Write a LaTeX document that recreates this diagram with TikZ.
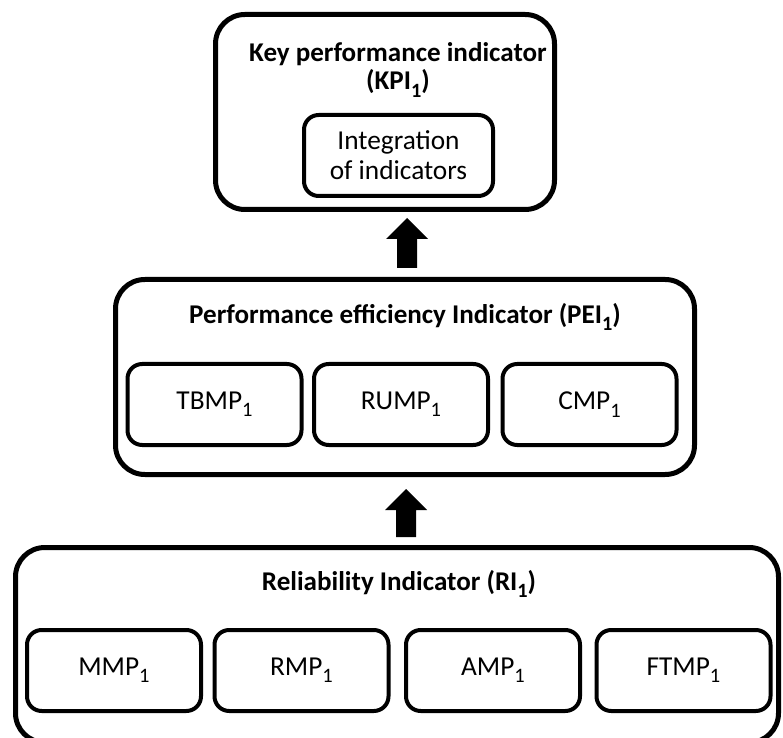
\documentclass[tikz,border=0pt]{standalone}
\usepackage{fontspec}
\usepackage{graphicx}
\setmainfont{Carlito}
\usetikzlibrary{calc}
\newcommand\sbone{\raisebox{-0.27em}{\scalebox{0.75}{1}}}
\tikzset{
  outerbox/.style={draw, line width=3.75pt, rounded corners=22pt, inner sep=0pt,
    minimum width={#1}},
  innerbox/.style={draw, line width=3pt, rounded corners=11pt, inner sep=0pt,
    minimum width={174*0.75pt}, minimum height={81*0.75pt}, font=\fontsize{20.5}{22.5}\selectfont, align=center},
  titletext/.style={font=\fontsize{20.3}{21}\selectfont\bfseries, align=center, inner sep=0pt},
  arrowfill/.style={fill=black}
}
\newcommand\blockarrow[2]{%
  \fill[arrowfill] ($(#1)+(-10,0)$) -- ($(#2)+(-10,21)$) -- ($(#2)+(-21,21)$) -- (#2)
    -- ($(#2)+(21,21)$) -- ($(#2)+(10,21)$) -- ($(#1)+(10,0)$) -- cycle;}
\begin{document}
\begin{tikzpicture}[x=0.75pt, y=-0.75pt]
\useasboundingbox (0,0) rectangle (783,738);
% KPI
\node[outerbox={339*0.75pt}, minimum height={195*0.75pt}] (kpi) at (385,112) {};
\node[titletext] (kpititle) at (398,70) {Key performance indicator\\(KPI\sbone)};
\node[innerbox, minimum width={189*0.75pt}] (integ) at (398.5,155.5) {Integration\\of indicators};
% PEI
\node[outerbox={579*0.75pt}, minimum height={195*0.75pt}] (pei) at (405,377) {};
\node[titletext] (peititle) at (405,317) {Performance efficiency Indicator (PEI\sbone)};
\node[innerbox] (tbmp) at (214.5,404.5) {TBMP\sbone};
\node[innerbox] (rump) at (401,404.5) {RUMP\sbone};
\node[innerbox] (cmp) at (589.5,404.5) {CMP\sbone};
% RI
\node[outerbox={763*0.75pt}, minimum height={195*0.75pt}] (ri) at (397,645) {};
\node[titletext] (rititle) at (399,584) {Reliability Indicator (RI\sbone)};
\node[innerbox] (mmp) at (114,670.5) {MMP\sbone};
\node[innerbox] (rmp) at (301.5,670.5) {RMP\sbone};
\node[innerbox] (amp) at (493,670.5) {AMP\sbone};
\node[innerbox] (ftmp) at (683.5,670.5) {FTMP\sbone};
% arrows
\coordinate (a1tail) at (407,268);
\coordinate (a1tip) at (407,218);
\coordinate (a2tail) at (406,537);
\coordinate (a2tip) at (406,489);
\blockarrow{a1tail}{a1tip}
\blockarrow{a2tail}{a2tip}
\end{tikzpicture}
\end{document}
